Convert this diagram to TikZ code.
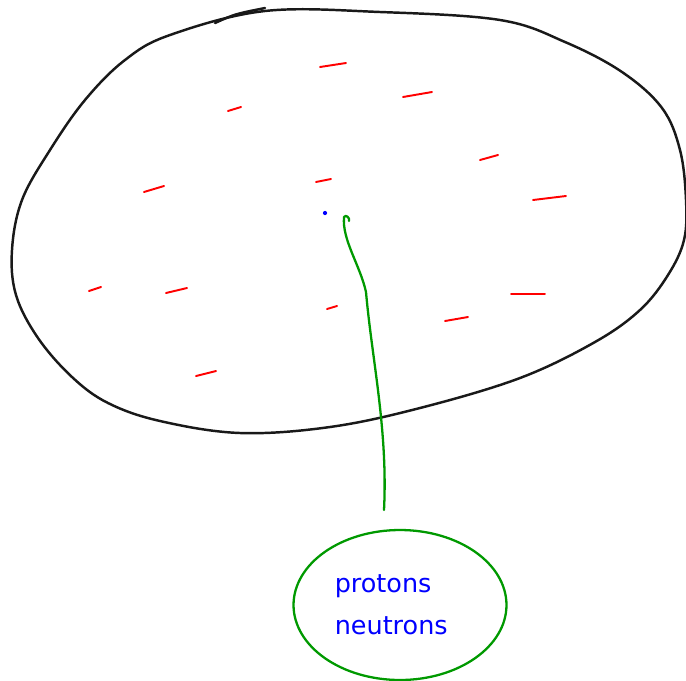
\documentclass[tikz,border=0pt]{standalone}
\usepackage{fontspec}
\newfontfamily\handfont{DejaVu Sans}
\usetikzlibrary{shapes.geometric}

\begin{document}
\begin{tikzpicture}[
    x=0.02cm, y=-0.02cm,
    shell/.style={draw=black!90, line width=1.4pt, line cap=round, line join=round},
    electron/.style={draw=red, line width=1.1pt, line cap=round},
    nucleus/.style={ellipse, draw=green!60!black, line width=1.3pt, minimum width=4.26cm, minimum height=3cm, inner sep=0pt, align=left, text=blue, font=\handfont\fontsize{14.5}{24}\selectfont},
    link/.style={draw=green!60!black, line width=1.3pt, line cap=round, line join=round}
]
\useasboundingbox (0,0) rectangle (686,680);

% atom outline
\draw[shell] plot[smooth cycle, tension=0.6] coordinates {
    (265,11) (380,12) (500,20) (565,42) (622,72) (662,108) (680,150)
    (686,200) (684,240) (668,275) (640,310) (595,342) (520,378)
    (420,408) (330,427) (240,433) (160,421) (108,403) (72,377)
    (38,338) (16,295) (12,250) (22,200) (50,150) (85,100) (125,60) (170,35)};
\draw[shell] (215,23) .. controls (235,14) .. (265,8);

% electrons
\foreach \xa/\ya/\xb/\yb in {320/67/346/63, 403/97/432/92, 228/111/241/107, 480/160/498/155,
    316/182/331/179, 144/192/164/186, 533/200/566/196, 89/291/101/287, 166/293/187/288,
    327/309/337/306, 511/294/545/294, 445/321/468/317, 196/376/216/371}
    \draw[electron] (\xa,\ya) -- (\xb,\yb);

% centre
\coordinate (center) at (344,217);
\fill[blue] (325,213) circle (1.2pt);

% nucleus
\node[nucleus] (nucleus) at (400,605) {protons\\neutrons\hspace*{10pt}};
\coordinate (tail) at (384,510);
\draw[link] (tail) .. controls (388,430) and (372,360) .. (366,292)
    .. controls (360,265) and (342,240) .. (center)
    .. controls (346,214) and (350,218) .. (349,221);
\end{tikzpicture}
\end{document}
